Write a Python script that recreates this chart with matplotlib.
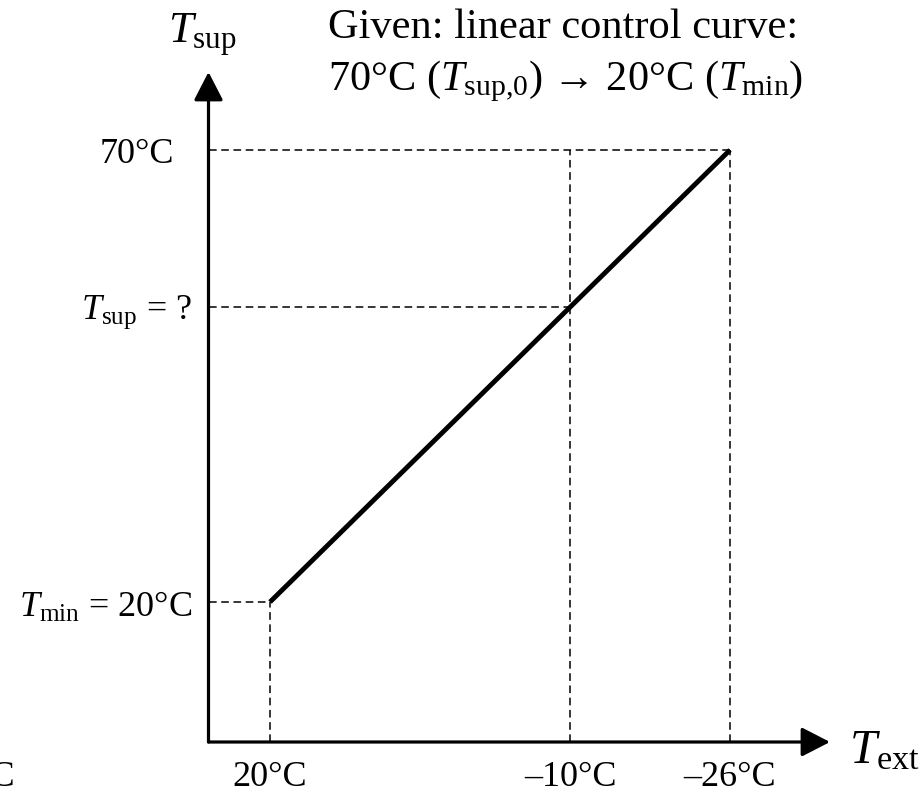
import numpy as np
import matplotlib
matplotlib.use('Agg')
import matplotlib.pyplot as plt

# control curve: outdoor temperature -> supply temperature
t_ext_curve = [20, -26]
t_sup_curve = [20, 70]
t_ext_query = -10
t_ext_ticks = [20, -10, -26]
t_ext_labels = ['20°C', '–10°C', '–26°C']

plt.rcParams['font.family'] = ['Liberation Serif', 'DejaVu Serif']
plt.rcParams['mathtext.fontset'] = 'custom'
plt.rcParams['mathtext.rm'] = 'Liberation Serif'
plt.rcParams['mathtext.it'] = 'Liberation Serif:italic'

W, H = 923, 794
fig = plt.figure(figsize=(W / 100, H / 100), dpi=100)

# axes box: origin at (208.5, 742) px, arrow tips at x=830 and y=72
ax = fig.add_axes([208.5 / W, (H - 742) / H, (830 - 208.5) / W, (742 - 72) / H])
ax.set_xlim(26.15, -36)
ax.set_ylim(4.51, 78.63)
ax.axis('off')

# queried supply temperature
t_sup_query = np.interp(t_ext_query, t_ext_curve[::-1], t_sup_curve[::-1])

x0, y0 = ax.get_xlim()[0], ax.get_ylim()[0]
dash = dict(color='black', lw=1.1, dashes=(5, 3))

t_min, t_max = t_sup_curve[0], t_sup_curve[1]
ax.plot([x0, t_ext_ticks[2]], [t_max, t_max], **dash)
ax.plot([x0, t_ext_query], [t_sup_query, t_sup_query], **dash)
ax.plot([x0, t_ext_ticks[0]], [t_min, t_min], **dash)
ax.plot([t_ext_ticks[0], t_ext_ticks[0]], [y0, t_min], **dash)
ax.plot([t_ext_query, t_ext_query], [y0, t_max], **dash)
ax.plot([t_ext_ticks[2], t_ext_ticks[2]], [y0, t_max], **dash)

ax.plot(t_ext_curve, t_sup_curve, color='black', lw=3.5, solid_capstyle='butt')

# axes with arrow heads
arr = dict(arrowstyle='-|>,head_length=1.75,head_width=0.9', lw=2.3,
           color='black', shrinkA=0, shrinkB=0, mutation_scale=10)
ax.annotate('', xy=(1, 0), xytext=(0, 0), xycoords='axes fraction', arrowprops=arr)
ax.annotate('', xy=(0, 1), xytext=(0, 0), xycoords='axes fraction', arrowprops=arr)

fs = 26
# y labels
ax.annotate('70°C', xy=(x0, t_max), xytext=(-25, -9.4), textcoords='offset points',
            ha='right', va='baseline', fontsize=fs)
ax.annotate(r'$T_{\mathrm{sup}}$ = ?', xy=(x0, t_sup_query), xytext=(-11.5, -8.6),
            textcoords='offset points', ha='right', va='baseline', fontsize=fs)
ax.annotate(r'$T_{\mathrm{min}}$ = 20°C', xy=(x0, t_min), xytext=(-11.5, -10.8),
            textcoords='offset points', ha='right', va='baseline', fontsize=fs)

# x labels
for t, lab in zip(t_ext_ticks, t_ext_labels):
    ax.annotate(lab, xy=(t, y0), xytext=(0, -31.7), textcoords='offset points',
                ha='center', va='baseline', fontsize=fs)

# clipped label at the left edge (cut off in the original too)
fig.text(15 / W, 1 - 786 / H, '–30°C', ha='right', va='baseline', fontsize=fs)

# axis titles
fig.text(168 / W, 1 - 43 / H, r'$T_{\mathrm{sup}}$', ha='left', va='baseline', fontsize=32)
fig.text(849 / W, 1 - 763 / H, r'$T_{\mathrm{ext}}$', ha='left', va='baseline', fontsize=35)

# note at the top
fig.text(328 / W, 1 - 38 / H, 'Given: linear control curve:', ha='left', va='baseline',
         fontsize=30.5)
fig.text(328 / W, 1 - 90 / H, r'70°C ($T_{\mathrm{sup{,}0}}$) → 20°C ($T_{\mathrm{min}}$)',
         ha='left', va='baseline', fontsize=30.5)

fig.savefig('out.png', dpi=100)
